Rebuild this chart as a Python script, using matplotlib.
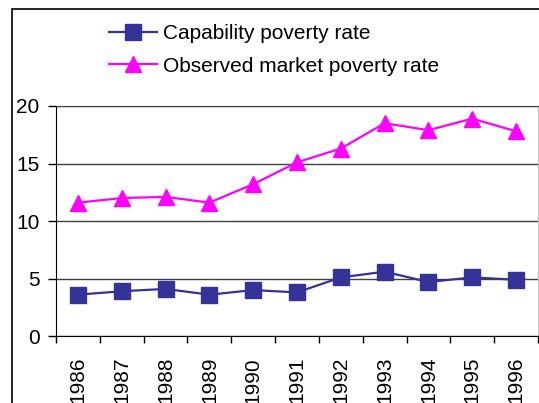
import matplotlib.pyplot as plt
from matplotlib.patches import Rectangle

plt.rcParams['font.family'] = ['Liberation Sans', 'DejaVu Sans']

years = ['1986', '1987', '1988', '1989', '1990', '1991',
         '1992', '1993', '1994', '1995', '1996']
capability = [3.6, 3.9, 4.1, 3.6, 4.0, 3.8, 5.1, 5.6, 4.7, 5.1, 4.9]
observed = [11.6, 12.0, 12.1, 11.6, 13.2, 15.1, 16.3, 18.5, 17.9, 18.9, 17.8]

fig = plt.figure(figsize=(5.39, 4.03), dpi=100)
ax = fig.add_axes([0.104, 0.166, 0.894, 0.571])

x = list(range(len(years)))
ax.plot(x, capability, c='#333399', lw=1.6, marker='s', ms=11,
        mec='#333399', label='Capability poverty rate')
ax.plot(x, observed, c='#FF00FF', lw=1.6, marker='^', ms=11.5,
        mec='#FF00FF', label='Observed market poverty rate')

ax.set_xlim(-0.5, len(years) - 0.5)
ax.set_ylim(0, 20)
ax.set_yticks([0, 5, 10, 15, 20])
ax.set_yticks([], minor=True)
ax.set_xticks([i - 0.5 for i in range(len(years) + 1)])
ax.set_xticklabels([])
ax.set_xticks(x, minor=True)
ax.set_xticklabels(years, minor=True, rotation=90, fontsize=15)
ax.tick_params(axis='x', which='minor', length=0, pad=15)
ax.tick_params(axis='x', which='major', length=5, width=1, direction='out')
ax.tick_params(axis='y', length=6, width=1, labelsize=15, pad=6)

ax.set_axisbelow(True)
ax.yaxis.grid(True, color='#404040', lw=1)
for s in ['left', 'bottom']:
    ax.spines[s].set_color('black')
ax.spines['top'].set_color('#404040')
ax.spines['right'].set_color('#c0c0c0')

fig.legend(loc='upper left', bbox_to_anchor=(0.167, 0.986), frameon=False,
           fontsize=15, handlelength=2.3, handletextpad=0.3, labelspacing=0.64)

fig.patches.append(Rectangle((12 / 539, -0.1), 1.2, 1.1 - 9 / 403,
                             transform=fig.transFigure, fill=False,
                             ec='black', lw=1.2))

fig.savefig('out.png', dpi=100)
